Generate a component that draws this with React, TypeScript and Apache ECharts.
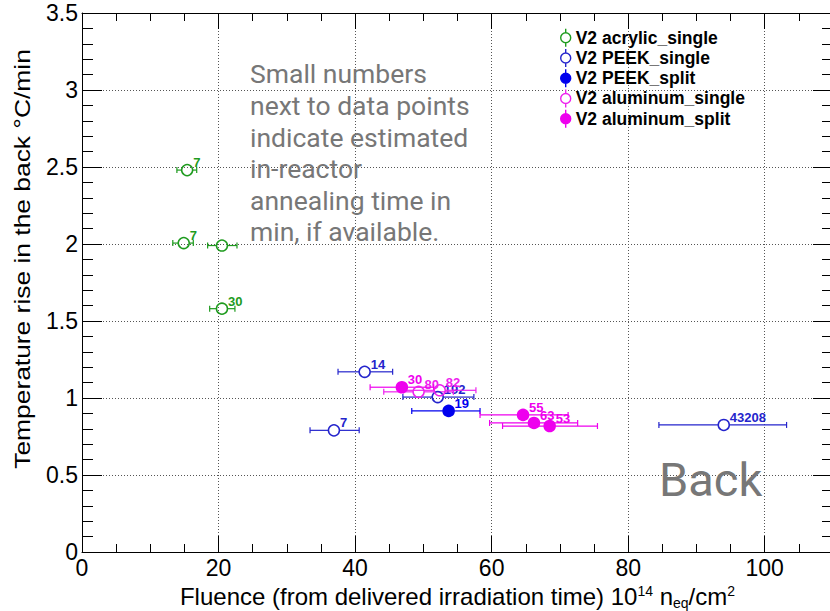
import React, { useEffect, useRef } from 'react';
import * as echarts from 'echarts';

// ---- data ----
const seriesNames = ['V2 acrylic_single', 'V2 PEEK_single', 'V2 PEEK_split', 'V2 aluminum_single', 'V2 aluminum_split'];
const seriesColors = ['#1e9b1e', '#2424cc', '#0000ee', '#ee22ee', '#ee00ee'];
const seriesFilled = [false, false, true, false, true];

const acrylicSingleX = [15.4, 14.9, 20.5, 20.5];
const acrylicSingleY = [2.48, 2.006, 1.99, 1.58];
const acrylicSingleXLo = [13.9, 13.3, 18.4, 18.7];
const acrylicSingleXHi = [16.8, 16.3, 22.7, 22.4];
const acrylicSingleLabels = ['7', '7', '', '30'];

const peekSingleX = [41.4, 36.9, 52.1, 94.0];
const peekSingleY = [1.17, 0.79, 1.006, 0.825];
const peekSingleXLo = [37.5, 33.4, 47.0, 84.5];
const peekSingleXHi = [45.5, 40.6, 57.4, 103.2];
const peekSingleLabels = ['14', '7', '192', '43208'];

const peekSplitX = [53.7];
const peekSplitY = [0.916];
const peekSplitXLo = [48.3];
const peekSplitXHi = [58.3];
const peekSplitLabels = ['19'];

const aluSingleX = [49.3, 52.4];
const aluSingleY = [1.04, 1.05];
const aluSingleXLo = [44.2, 47.1];
const aluSingleXHi = [54.4, 57.7];
const aluSingleLabels = ['80', '82'];

const aluSplitX = [46.85, 64.6, 66.2, 68.5];
const aluSplitY = [1.07, 0.89, 0.838, 0.818];
const aluSplitXLo = [42.2, 58.3, 59.7, 61.6];
const aluSplitXHi = [51.5, 71.2, 72.6, 75.5];
const aluSplitLabels = ['30', '55', '63', '53'];

const xTitle = '{a|Fluence (from delivered irradiation time) 10}{sup|14}{a| n}{sub|eq}{a|/cm}{sup|2}';
const yTitle = 'Temperature rise in the back \u00B0C/min';
const noteLines = ['Small numbers', 'next to data points', 'indicate estimated', 'in-reactor', 'annealing time in', 'min, if available.'];
const cornerText = 'Back';

const groups = [
  { x: acrylicSingleX, y: acrylicSingleY, lo: acrylicSingleXLo, hi: acrylicSingleXHi, labels: acrylicSingleLabels },
  { x: peekSingleX, y: peekSingleY, lo: peekSingleXLo, hi: peekSingleXHi, labels: peekSingleLabels },
  { x: peekSplitX, y: peekSplitY, lo: peekSplitXLo, hi: peekSplitXHi, labels: peekSplitLabels },
  { x: aluSingleX, y: aluSingleY, lo: aluSingleXLo, hi: aluSingleXHi, labels: aluSingleLabels },
  { x: aluSplitX, y: aluSplitY, lo: aluSplitXLo, hi: aluSplitXHi, labels: aluSplitLabels },
];

const FONT = '"Liberation Sans", Arial, Helvetica, sans-serif';
const hollowIcon = 'path://M5,0L5,4M5,14L5,18M10,9A5,5,0,1,1,0,9A5,5,0,1,1,10,9Z';
const filledIcon = 'path://M5,0L5,18M10,9A5,5,0,1,1,0,9A5,5,0,1,1,10,9Z';

export default function App() {
  const ref = useRef<HTMLDivElement>(null);
  useEffect(() => {
    if (!ref.current) return;
    const chart = echarts.init(ref.current, null, { renderer: 'svg' });
    const R = 5.5;

    const errSeries = groups.map((g, gi) => {
      const color = seriesColors[gi];
      return {
        type: 'custom',
        name: seriesNames[gi] + ' errors',
        xAxisIndex: 0,
        yAxisIndex: 0,
        z: 3,
        clip: false,
        data: g.x.map((v, i) => [v, g.y[i], g.lo[i], g.hi[i]]),
        renderItem: (params: any, api: any) => {
          const c = api.coord([api.value(0), api.value(1)]);
          const pl = api.coord([api.value(2), api.value(1)]);
          const ph = api.coord([api.value(3), api.value(1)]);
          const st = { stroke: color, lineWidth: 1.2 };
          const children: any[] = [];
          if (pl[0] < c[0] - R) children.push({ type: 'line', shape: { x1: pl[0], y1: c[1], x2: c[0] - R, y2: c[1] }, style: st });
          if (ph[0] > c[0] + R) children.push({ type: 'line', shape: { x1: c[0] + R, y1: c[1], x2: ph[0], y2: c[1] }, style: st });
          children.push({ type: 'line', shape: { x1: pl[0], y1: c[1] - 3, x2: pl[0], y2: c[1] + 3 }, style: st });
          children.push({ type: 'line', shape: { x1: ph[0], y1: c[1] - 3, x2: ph[0], y2: c[1] + 3 }, style: st });
          const lab = g.labels[params.dataIndex];
          if (lab) {
            children.push({
              type: 'text',
              x: c[0] + 6,
              y: c[1] - 1,
              style: {
                text: lab, fill: color, font: 'bold 13px ' + FONT,
                align: 'left', verticalAlign: 'bottom', textAlign: 'left', textVerticalAlign: 'bottom',
              },
            });
          }
          return { type: 'group', children };
        },
      };
    });

    const markerSeries = groups.map((g, gi) => {
      const color = seriesColors[gi];
      return {
        type: 'scatter',
        name: seriesNames[gi],
        xAxisIndex: 0,
        yAxisIndex: 0,
        z: 4,
        symbol: 'circle',
        symbolSize: 11,
        itemStyle: {
          color: seriesFilled[gi] ? color : 'rgba(0,0,0,0)',
          borderColor: color,
          borderWidth: 1.5,
          opacity: 1,
        },
        emphasis: { disabled: true },
        data: g.x.map((v, i) => [v, g.y[i]]),
      };
    });

    const axisCommon = {
      type: 'value',
      axisLine: { show: true, onZero: false, lineStyle: { color: '#000', width: 1 } },
    };

    const option: any = {
      animation: false,
      backgroundColor: '#fff',
      grid: { left: 82, top: 13, width: 751, height: 539, containLabel: false, outerBoundsMode: 'none' },
      legend: {
        show: true,
        orient: 'vertical',
        left: 560,
        top: 28,
        padding: 0,
        itemWidth: 10,
        itemHeight: 18,
        itemGap: 0.85,
        selectedMode: false,
        textStyle: { fontFamily: FONT, fontWeight: 'bold', fontSize: 17.5, lineHeight: 18, color: '#000' },
        data: seriesNames.map((n, i) => ({
          name: n,
          icon: seriesFilled[i] ? filledIcon : hollowIcon,
          itemStyle: {
            color: seriesFilled[i] ? seriesColors[i] : 'rgba(0,0,0,0)',
            borderColor: seriesColors[i],
            borderWidth: 1.4,
          },
        })),
      },
      xAxis: [
        {
          ...axisCommon,
          position: 'bottom',
          min: 0, max: 110, interval: 20,
          axisTick: { show: true, inside: true, length: 16, lineStyle: { color: '#000' } },
          minorTick: { show: true, splitNumber: 4, length: 8, lineStyle: { color: '#000' } },
          splitLine: { show: true, lineStyle: { color: '#555', width: 1, type: [1, 2] } },
          axisLabel: { fontSize: 23, fontFamily: FONT, color: '#000', margin: 4, showMaxLabel: false },
          name: xTitle,
          nameLocation: 'middle',
          nameGap: 19,
          nameTextStyle: {
            fontSize: 24, fontFamily: FONT, color: '#000', lineHeight: 26,
            rich: {
              a: { fontSize: 24, fontFamily: FONT, color: '#000' },
              sup: { fontSize: 14, fontFamily: FONT, color: '#000', verticalAlign: 'top', lineHeight: 26 },
              sub: { fontSize: 14, fontFamily: FONT, color: '#000', verticalAlign: 'bottom', lineHeight: 26 },
            },
          },
        },
        {
          ...axisCommon,
          position: 'top',
          min: 0, max: 110, interval: 20,
          axisTick: { show: true, inside: true, length: 16, lineStyle: { color: '#000' } },
          minorTick: { show: true, splitNumber: 4, length: 8, lineStyle: { color: '#000' } },
          splitLine: { show: false },
          axisLabel: { show: false },
        },
      ],
      yAxis: [
        {
          ...axisCommon,
          position: 'left',
          min: 0, max: 3.5, interval: 0.5,
          axisTick: { show: true, inside: true, length: 20, lineStyle: { color: '#000' } },
          minorTick: { show: true, splitNumber: 5, length: 11, lineStyle: { color: '#000' } },
          splitLine: { show: true, lineStyle: { color: '#555', width: 1, type: [1, 2] } },
          axisLabel: { fontSize: 23, fontFamily: FONT, color: '#000', margin: 4 },
        },
        {
          ...axisCommon,
          position: 'right',
          min: 0, max: 3.5, interval: 0.5,
          axisTick: { show: true, inside: true, length: 20, lineStyle: { color: '#000' } },
          minorTick: { show: true, splitNumber: 5, length: 11, lineStyle: { color: '#000' } },
          splitLine: { show: false },
          axisLabel: { show: false },
        },
      ],
      graphic: [
        {
          type: 'text',
          x: 22,
          y: 259,
          rotation: Math.PI / 2,
          scaleX: 1.2,
          z: 10,
          style: {
            text: yTitle, font: '22px ' + FONT, fill: '#000',
            align: 'center', verticalAlign: 'middle', textAlign: 'center', textVerticalAlign: 'middle',
          },
        },
        {
          type: 'text',
          left: 250,
          top: 58,
          z: 10,
          style: {
            text: noteLines.join('\n'),
            font: '26.5px Roboto',
            lineHeight: 31.6,
            fill: '#777',
          },
        },
        {
          type: 'text',
          left: 659,
          top: 456,
          z: 10,
          style: { text: cornerText, font: '47px Roboto', fill: '#777' },
        },
      ],
      series: [...errSeries, ...markerSeries],
    };
    chart.setOption(option);
    return () => chart.dispose();
  }, []);

  return (
    <div
      ref={ref}
      style={{ position: 'absolute', left: 0, top: 0, width: 830, height: 611, background: '#fff' }}
    />
  );
}
